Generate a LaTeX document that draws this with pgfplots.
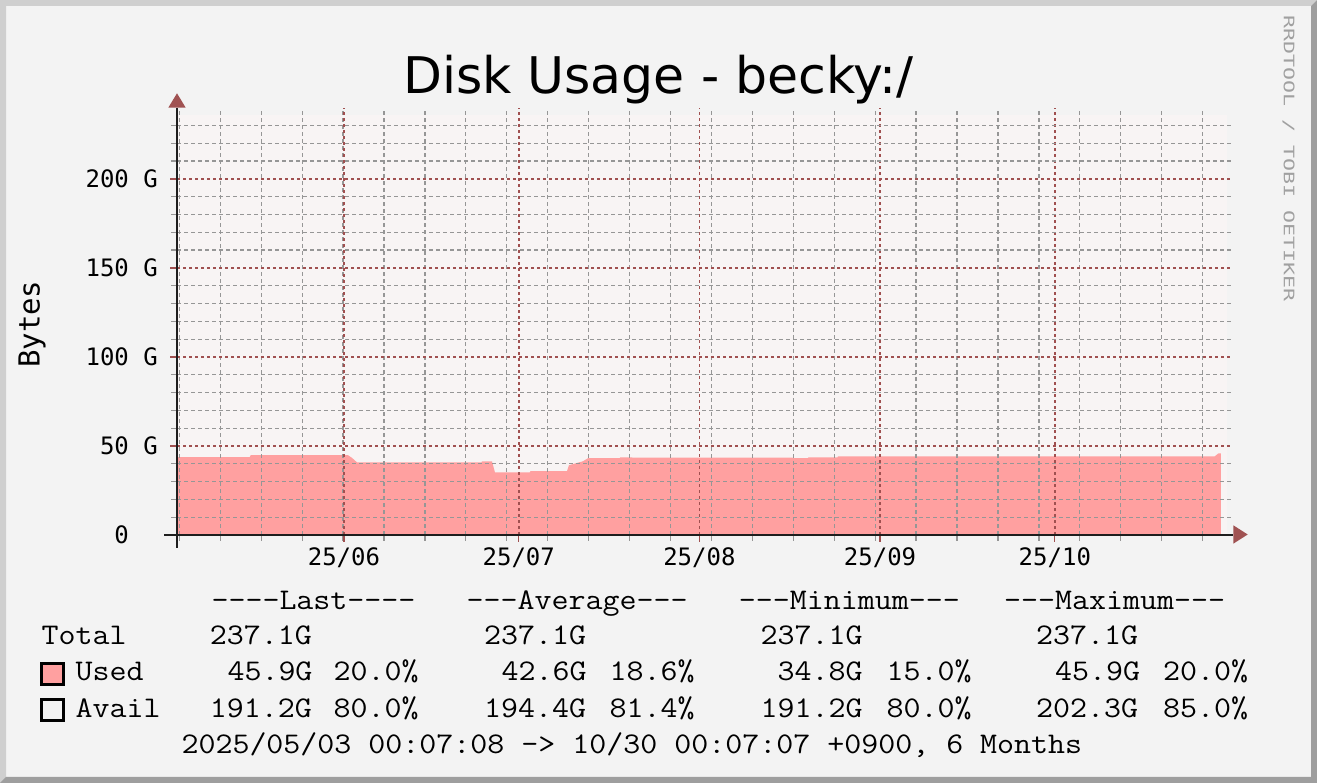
\documentclass[border=0pt]{standalone}
\usepackage{fontspec}
\usepackage{pgfplots}
\pgfplotsset{compat=1.18}
\newfontfamily\djsans{DejaVu Sans}
\newfontfamily\djmono{DejaVu Sans Mono}
\newfontfamily\wmfont[FakeStretch=1.49]{DejaVu Sans Mono}
\newcommand\legfont{\ttfamily\fontsize{30}{31}\selectfont}
\definecolor{bgc}{RGB}{243,243,243}
\definecolor{plotbg}{RGB}{248,244,244}
\definecolor{usedc}{RGB}{255,160,160}
\definecolor{majc}{RGB}{160,80,80}
\definecolor{minc}{RGB}{150,150,150}
\definecolor{arrc}{RGB}{160,82,82}
\definecolor{lightb}{RGB}{207,207,207}
\definecolor{darkb}{RGB}{158,158,158}
\definecolor{wmc}{RGB}{160,160,160}
\definecolor{axc}{RGB}{30,30,30}
\begin{document}
\begin{tikzpicture}[x=1pt,y=1pt]
% canvas and frame
\fill[bgc] (0,0) rectangle (1317,783);
\fill[lightb] (0,0) -- (0,783) -- (1317,783) -- (1311,777) -- (6,777) -- (6,6) -- cycle;
\fill[darkb] (1317,783) -- (1317,0) -- (0,0) -- (6,6) -- (1311,6) -- (1311,777) -- cycle;
% plot background
\fill[plotbg] (177,248) rectangle (1227,668);
\begin{axis}[
  at={(177pt,248pt)}, anchor=south west,
  scale only axis, width=1055pt, height=427pt,
  xmin=0.34, xmax=181.4, ymin=0, ymax=239.8,
  axis line style={draw=none},
  axis on top,
  tick pos=left, tick align=outside,
  major tick length=7pt, minor tick length=6pt,
  xtick={28.995,58.995,89.995,120.995,150.995},
  xticklabels={25/06,25/07,25/08,25/09,25/10},
  minor xtick={0.74,7.76,14.79,21.81,28.84,35.86,42.89,49.91,56.94,63.96,70.98,78.01,85.03,92.06,99.08,106.11,113.13,120.16,127.18,134.21,141.23,148.26,155.28,162.31,169.33,176.35},
  ytick={0,50,100,150,200},
  yticklabels={0\phantom{0G},50 G,100 G,150 G,200 G},
  minor ytick={10,20,30,40,60,70,80,90,110,120,130,140,160,170,180,190,210,220,230},
  grid=both,
  major grid style={draw=majc, line width=1.6pt, dash pattern=on 3pt off 3pt},
  minor grid style={draw=minc, line width=1.2pt, dash pattern=on 4pt off 3pt},
  major tick style={draw=majc, line width=1.3pt},
  minor tick style={draw=minc, line width=1.2pt},
  tick label style={font=\djmono\fontsize{24}{24}\selectfont, text=black, inner sep=0pt},
  yticklabel style={anchor=east, xshift=-12pt},
  xticklabel style={anchor=north, yshift=-5.5pt},
]
\addplot[fill=usedc, draw=none] coordinates {
(0.34,43.7) (12.8,43.7) (13.0,44.8) (29.68,44.8) (30.37,43.3) (31.23,40.8)
(52.6,40.8) (52.7,41.4) (54.39,41.4) (54.91,35.2) (60.9,35.2) (61.0,35.8)
(67.26,35.8) (67.61,39.2) (70.01,41.4) (70.87,43.1) (76.3,43.1) (76.4,43.6)
(81.5,43.4) (106.0,43.4) (106.1,43.1) (108.6,43.1) (108.7,43.6) (113.7,43.6)
(113.8,44.2) (178.45,44.2) (179.1,45.9) (179.48,45.9)
} \closedcycle;
\end{axis}
% axis lines and arrows
\draw[axc, line width=2pt] (176.5,235) -- (176.5,675.3);
\draw[axc, line width=2pt] (164,248) -- (1233.3,248);
\fill[arrc] (168.3,675.3) -- (185.7,675.3) -- (177,689.7) -- cycle;
\fill[arrc] (1233.3,257.7) -- (1233.3,239.3) -- (1247.7,248.5) -- cycle;
% title
\node[anchor=base, inner sep=0pt, font=\djsans\fontsize{50.5}{55}\selectfont] at (658.5,689) {Disk Usage - becky:/};
% y label
\node[rotate=90, anchor=base, inner sep=0pt, font=\djmono\fontsize{29}{30}\selectfont] at (39.5,458.8) {Bytes};
% watermark
\node[rotate=-90, anchor=base west, inner sep=0pt, text=wmc, font=\wmfont\fontsize{14.5}{14.5}\selectfont] at (1283.8,768) {RRDTOOL / TOBI OETIKER};
% legend
\begin{scope}[every node/.style={anchor=base west, inner sep=0pt, font=\legfont, xscale=1.1, transform shape}]
\node at (211.3,173.7) {----Last----};
\node at (466.4,173.7) {---Average---};
\node at (738.6,173.7) {---Minimum---};
\node at (1004,173.7) {---Maximum---};
\node at (41.3,138) {Total};
\node at (209.7,138) {237.1G};
\node at (484,138) {237.1G};
\node at (760.5,138) {237.1G};
\node at (1036,138) {237.1G};
\node at (75.5,102.3) {Used};
\node at (227.3,102.3) {45.9G};
\node at (333.5,102.3) {20.0\%};
\node at (501.5,102.3) {42.6G};
\node at (609.5,102.3) {18.6\%};
\node at (777.4,102.3) {34.8G};
\node at (886.5,102.3) {15.0\%};
\node at (1054.9,102.3) {45.9G};
\node at (1163,102.3) {20.0\%};
\node at (75.5,65.7) {Avail};
\node at (209.7,65.7) {191.2G};
\node at (333.5,65.7) {80.0\%};
\node at (484,65.7) {194.4G};
\node at (609.5,65.7) {81.4\%};
\node at (760.5,65.7) {191.2G};
\node at (886.5,65.7) {80.0\%};
\node at (1036,65.7) {202.3G};
\node at (1163,65.7) {85.0\%};
\node at (181.3,29.7) {2025/05/03 00:07:08 -> 10/30 00:07:07 +0900, 6 Months};
\end{scope}
\draw[black, line width=3pt, fill=usedc] (41.5,98.2) rectangle (63.5,119.2);
\draw[black, line width=3pt, fill=bgc] (41.5,62.8) rectangle (63.5,83.2);
\end{tikzpicture}
\end{document}
